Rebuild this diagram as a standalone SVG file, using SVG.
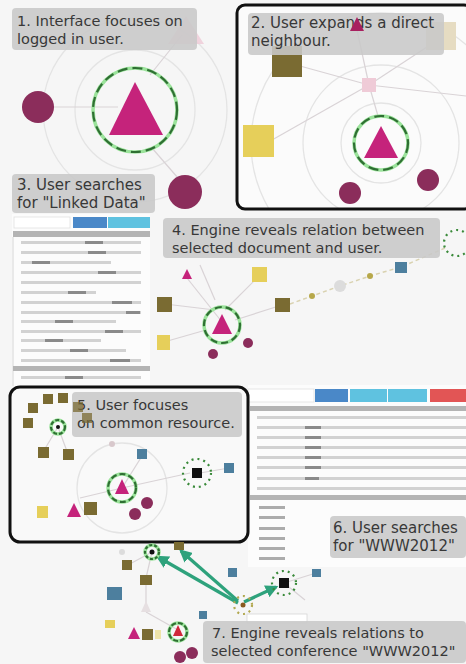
<svg xmlns="http://www.w3.org/2000/svg" width="466" height="664" viewBox="0 0 466 664">
<style>
.lbl{fill:#c8c8c8;fill-opacity:0.88}
.t{font-family:"DejaVu Sans",sans-serif;fill:#383838}
.f13{font-size:14.5px}
.f14{font-size:15px}
.ring{fill:none;stroke:#9be39b;stroke-width:3.5}
.dash{fill:none;stroke:#2f6f33;stroke-width:2.2;stroke-dasharray:10 5}
.dot{fill:none;stroke:#3a8a3a;stroke-width:2.2;stroke-dasharray:2 4}
.tri{fill:#c5237b}
.pur{fill:#8b2d5b}
.olv{fill:#7a6b32}
.yel{fill:#e6cf5a}
.blu{fill:#4d7f9e}
.pale{fill:#efcbd7}
.edge{stroke:#d9d3d6;stroke-width:1.2;fill:none}
.orb{fill:none;stroke:#e4e4e4;stroke-width:1.3}
.panel{fill:none;stroke:#111;stroke-width:3}
.row{fill:#d2d2d2}
.bold{fill:#8a8a8a}
.hdr{fill:#b4b4b4}
.arr{stroke:#2ea27c;stroke-width:3.2;fill:none}
</style>
<defs>
<marker id="ah" viewBox="0 0 10 10" refX="8" refY="5" markerWidth="4" markerHeight="4" orient="auto">
<path d="M0,0 L10,5 L0,10 z" fill="#2ea27c"/>
</marker>
<clipPath id="c2"><rect x="237" y="5" width="229" height="204" rx="8"/></clipPath>
<clipPath id="c5"><rect x="10" y="387" width="238" height="155" rx="10"/></clipPath>
</defs>
<rect width="466" height="664" fill="#f6f6f6"/>

<!-- Panel 1 -->
<g id="panel1">
<circle class="orb" cx="135" cy="110" r="92"/>
<circle class="orb" cx="135" cy="110" r="60"/>
</g>

<g id="connectors">
<line class="edge" x1="54" y1="107" x2="118" y2="107"/>
<line class="edge" x1="150" y1="75" x2="182" y2="35"/>
<line class="edge" x1="152" y1="148" x2="178" y2="178"/>
<g>
<line class="edge" x1="187" y1="278" x2="222" y2="322"/>
<line class="edge" x1="165" y1="304" x2="215" y2="310"/>
<line class="edge" x1="260" y1="275" x2="225" y2="310"/>
<line class="edge" x1="282" y1="305" x2="235" y2="320"/>
<line class="edge" x1="164" y1="342" x2="206" y2="330"/>
<line class="edge" x1="200" y1="265" x2="215" y2="300"/>
<polyline points="290,304 312,296 340,286 370,276 401,267 445,248" stroke="#d9d2b0" stroke-width="1.5" fill="none" stroke-dasharray="4 3"/>
</g>
<g>
<line class="edge" x1="284" y1="583" x2="316" y2="573"/>
<line class="edge" x1="284" y1="583" x2="305" y2="600"/>
<line class="edge" x1="152" y1="552" x2="128" y2="565"/>
<line class="edge" x1="152" y1="552" x2="146" y2="578"/>
<line class="edge" x1="146" y1="580" x2="146" y2="605"/>
<line class="edge" x1="146" y1="612" x2="178" y2="630"/>
<line class="arr" x1="238" y1="603" x2="158" y2="557" marker-end="url(#ah)"/>
<line class="arr" x1="238" y1="601" x2="181" y2="551" marker-end="url(#ah)"/>
<line class="arr" x1="244" y1="602" x2="276" y2="587" marker-end="url(#ah)"/>
</g>
</g>

<g id="p1-nodes">
<path class="pale" d="M186,16 L204,44 L168,44 z" opacity="0.8"/>
<circle class="pur" cx="38" cy="107" r="16"/>
<circle class="pur" cx="185" cy="192" r="17"/>
<circle class="ring" cx="135" cy="110" r="42"/>
<circle class="dash" cx="135" cy="110" r="42"/>
<path class="tri" d="M135,82 L163,135 L109,135 z"/>
</g>
<g id="label1">
<rect class="lbl" x="12" y="8" width="185" height="42" rx="4"/>
<text class="t f13" x="17" y="26">1. Interface focuses on</text>
<text class="t f13" x="17" y="43.5">logged in user.</text>
</g>

<!-- Panel 2 -->
<g id="panel2">
<rect x="237" y="5" width="229" height="204" rx="8" fill="#fbfbfb"/>
<g clip-path="url(#c2)">
<circle class="orb" cx="381" cy="143" r="40"/>
<circle class="orb" cx="381" cy="143" r="78"/>
<circle class="orb" cx="381" cy="143" r="130"/>
<line class="edge" x1="369" y1="85" x2="300" y2="66"/>
<line class="edge" x1="369" y1="85" x2="272" y2="140"/>
<line class="edge" x1="369" y1="85" x2="378" y2="116"/>
<line class="edge" x1="369" y1="85" x2="357" y2="30"/>
<line class="edge" x1="369" y1="85" x2="466" y2="96"/>
<line class="edge" x1="369" y1="85" x2="430" y2="45"/>
<rect class="olv" x="272" y="46" width="30" height="31"/>
<rect x="426" y="22" width="30" height="28" fill="#e6dcc2"/>
<rect class="yel" x="243" y="125" width="31" height="32"/>
<rect class="pale" x="362" y="78" width="14" height="14"/>
<circle class="ring" cx="381" cy="143" r="27"/>
<circle class="dash" cx="381" cy="143" r="27"/>
<path class="tri" d="M381,126 L398,158 L364,158 z"/>
<circle class="pur" cx="428" cy="180" r="11"/>
<circle class="pur" cx="350" cy="193" r="11"/>
</g>
<rect class="panel" x="237" y="5" width="235" height="204" rx="8"/>
</g>
<g id="label2">
<rect class="lbl" x="248" y="13" width="196" height="42" rx="4"/>
<text class="t f14" x="251" y="28">2. User expands a direct</text>
<text class="t f14" x="251" y="46">neighbour.</text>
<path d="M357,17 L364,31 L350,31 z" fill="#a8205f"/>
</g>

<!-- Panel 3 list -->
<g id="list3">
<rect x="12" y="214" width="138" height="172" fill="#fcfcfc"/>
<rect x="14" y="217" width="56" height="11" fill="#fff" stroke="#e0e0e0" stroke-width="0.8"/>
<rect x="73" y="217" width="34" height="11" fill="#4a88c8"/>
<rect x="108" y="217" width="42" height="11" fill="#5fc2e0"/>
<rect class="hdr" x="13" y="231" width="137" height="6"/>
<line x1="13" y1="237" x2="13" y2="386" stroke="#d6d6d6"/>
<rect class="row" x="21" y="241" width="120" height="3"/><rect class="bold" x="85" y="241" width="18" height="3"/>
<rect class="row" x="21" y="251" width="120" height="3"/><rect class="bold" x="88" y="251" width="18" height="3"/>
<rect class="row" x="21" y="261" width="90" height="3"/><rect class="bold" x="32" y="261" width="18" height="3"/>
<rect class="row" x="21" y="271" width="120" height="3"/><rect class="bold" x="98" y="271" width="18" height="3"/>
<rect class="row" x="21" y="281" width="120" height="3"/>
<rect class="row" x="21" y="291" width="75" height="3"/><rect class="bold" x="68" y="291" width="18" height="3"/>
<rect class="row" x="21" y="301" width="120" height="3"/><rect class="bold" x="112" y="301" width="20" height="3"/>
<rect class="row" x="21" y="311" width="120" height="3"/><rect class="bold" x="126" y="311" width="14" height="3"/>
<rect class="row" x="21" y="320" width="95" height="3"/><rect class="bold" x="55" y="320" width="18" height="3"/>
<rect class="row" x="21" y="330" width="120" height="3"/><rect class="bold" x="105" y="330" width="18" height="3"/>
<rect class="row" x="21" y="339" width="80" height="3"/><rect class="bold" x="45" y="339" width="18" height="3"/>
<rect class="row" x="21" y="349" width="105" height="3"/><rect class="bold" x="70" y="349" width="18" height="3"/>
<rect class="row" x="21" y="359" width="120" height="3"/><rect class="bold" x="110" y="359" width="20" height="3"/>
<rect class="hdr" x="13" y="366" width="137" height="5"/>
<rect class="row" x="21" y="376" width="120" height="3"/><rect class="bold" x="65" y="376" width="18" height="3"/>
</g>
<g id="label3">
<rect class="lbl" x="12" y="174" width="143" height="39" rx="4"/>
<text class="t f14" x="17" y="190">3. User searches</text>
<text class="t f14" x="17" y="208">for "Linked Data"</text>
</g>

<!-- Panel 4 graph -->
<g id="p4-nodes">
<path class="tri" d="M187,269 L192,279 L182,279 z"/>
<rect class="yel" x="252" y="267" width="15" height="15"/>
<rect class="olv" x="157" y="297" width="15" height="15"/>
<rect class="olv" x="275" y="298" width="15" height="14"/>
<rect class="yel" x="157" y="335" width="13" height="15"/>
<rect class="blu" x="395" y="262" width="12" height="11"/>
<circle cx="312" cy="296" r="3" fill="#b7a84a"/>
<circle cx="370" cy="276" r="3" fill="#b7a84a"/>
<circle cx="340" cy="286" r="6" fill="#dcdcdc"/>
<circle class="ring" cx="222" cy="325" r="18"/>
<circle class="dash" cx="222" cy="325" r="18" style="stroke-dasharray:7 4"/>
<path class="tri" d="M222,314 L232,334 L212,334 z"/>
<circle class="pur" cx="248" cy="343" r="5"/>
<circle class="pur" cx="213" cy="354" r="5"/>
<circle class="dot" cx="457" cy="243" r="13"/>
</g>
<g id="label4">
<rect class="lbl" x="163" y="218" width="277" height="40" rx="4"/>
<text class="t f13" x="172" y="235">4. Engine reveals relation between</text>
<text class="t f13" x="172" y="252.5">selected document and user.</text>
</g>

<!-- Panel 6 list -->
<g id="list6">
<rect x="248" y="385" width="218" height="182" fill="#fcfcfc"/>
<rect x="248" y="389" width="66" height="13" fill="#fff" stroke="#e0e0e0" stroke-width="0.8"/>
<rect x="315" y="389" width="33" height="13" fill="#4a88c8"/>
<rect x="350" y="389" width="37" height="13" fill="#5fc2e0"/>
<rect x="388" y="389" width="39" height="13" fill="#5fc2e0"/>
<rect x="430" y="389" width="36" height="13" fill="#e25555"/>
<rect class="hdr" x="250" y="406" width="216" height="5"/>
<rect class="row" x="257" y="416" width="209" height="3"/>
<rect class="row" x="257" y="426" width="209" height="3"/><rect class="bold" x="305" y="426" width="16" height="3"/>
<rect class="row" x="257" y="436" width="209" height="3"/><rect class="bold" x="305" y="436" width="16" height="3"/>
<rect class="row" x="257" y="446" width="209" height="3"/><rect class="bold" x="305" y="446" width="16" height="3"/>
<rect class="row" x="257" y="456" width="209" height="3"/><rect class="bold" x="305" y="456" width="16" height="3"/>
<rect class="row" x="257" y="466" width="209" height="3"/><rect class="bold" x="305" y="466" width="16" height="3"/>
<rect class="row" x="257" y="477" width="209" height="3"/><rect class="bold" x="305" y="477" width="14" height="3"/>
<rect class="row" x="257" y="487" width="209" height="3"/>
<rect class="hdr" x="250" y="495" width="216" height="5"/>
<rect class="bold" x="259" y="506" width="26" height="3" opacity="0.7"/>
<rect class="bold" x="259" y="516" width="26" height="3" opacity="0.7"/>
<rect class="bold" x="259" y="527" width="26" height="3" opacity="0.7"/>
<rect class="bold" x="259" y="537" width="26" height="3" opacity="0.7"/>
<rect class="bold" x="259" y="547" width="26" height="3" opacity="0.7"/>
<rect class="bold" x="259" y="557" width="26" height="3" opacity="0.7"/>
</g>
<g id="label6">
<rect class="lbl" x="330" y="516" width="136" height="42" rx="4"/>
<text class="t f14" x="333" y="533">6. User searches</text>
<text class="t f14" x="333" y="551">for "WWW2012"</text>
</g>

<!-- Panel 5 -->
<g id="panel5">
<rect x="10" y="387" width="238" height="155" rx="10" fill="#f9f9f9"/>
<g clip-path="url(#c5)">
<circle class="orb" cx="122" cy="488" r="45"/>
<line class="edge" x1="122" y1="488" x2="80" y2="498"/>
<line class="edge" x1="122" y1="488" x2="142" y2="456"/>
<line class="edge" x1="122" y1="488" x2="190" y2="473"/>
<line class="edge" x1="58" y1="427" x2="43" y2="452"/>
<line class="edge" x1="58" y1="427" x2="68" y2="454"/>
<line class="edge" x1="200" y1="473" x2="229" y2="468"/>
<rect class="olv" x="43" y="394" width="10" height="10"/>
<rect class="olv" x="58" y="393" width="10" height="10"/>
<rect class="olv" x="28" y="403" width="10" height="10"/>
<rect class="olv" x="73" y="402" width="10" height="10"/>
<rect class="olv" x="23" y="418" width="10" height="10"/>
<rect class="olv" x="82" y="413" width="10" height="10"/>
<rect class="olv" x="38" y="447" width="11" height="11"/>
<rect class="olv" x="63" y="449" width="11" height="11"/>
<circle class="ring" cx="58" cy="427" r="7"/>
<circle class="dash" cx="58" cy="427" r="7" style="stroke-dasharray:4 2"/>
<circle cx="58" cy="427" r="2" fill="#111"/>
<circle cx="112" cy="444" r="3" fill="#d8c8cc"/>
<rect class="blu" x="137" y="449" width="10" height="10"/>
<circle class="dot" cx="197" cy="473" r="14"/>
<rect x="192" y="468" width="10" height="10" fill="#111"/>
<rect class="blu" x="224" y="463" width="10" height="10"/>
<circle class="ring" cx="122" cy="488" r="14"/>
<circle class="dash" cx="122" cy="488" r="14" style="stroke-dasharray:6 3"/>
<path class="tri" d="M122,479 L129,494 L115,494 z"/>
<circle class="pur" cx="147" cy="503" r="6"/>
<circle class="pur" cx="135" cy="514" r="6"/>
<path class="tri" d="M74,503 L81,517 L67,517 z"/>
<rect class="olv" x="84" y="502" width="13" height="13"/>
<rect class="yel" x="37" y="506" width="11" height="12"/>
</g>
<rect class="panel" x="10" y="387" width="238" height="155" rx="10"/>
</g>
<g id="label5">
<rect class="lbl" x="72" y="392" width="170" height="45" rx="4"/>
<text class="t f13" x="77" y="410">5. User focuses</text>
<text class="t f13" x="77" y="428">on common resource.</text>
<rect class="olv" x="73" y="402" width="10" height="10" opacity="0.7"/>
<rect class="olv" x="82" y="413" width="10" height="10" opacity="0.7"/>
</g>

<!-- Panel 7 nodes -->
<g id="p7-nodes">
<circle cx="122" cy="552" r="3" fill="#dcdcdc"/>
<circle class="ring" cx="152" cy="552" r="7"/>
<circle class="dash" cx="152" cy="552" r="7" style="stroke-dasharray:3 2"/>
<circle cx="152" cy="552" r="2.5" fill="#111"/>
<rect class="olv" x="174" y="542" width="10" height="8"/>
<rect class="olv" x="122" y="560" width="10" height="10"/>
<rect class="olv" x="140" y="575" width="12" height="10"/>
<rect class="blu" x="107" y="587" width="15" height="13"/>
<path d="M146,601 L151,612 L141,612 z" fill="#e6dfe1"/>
<rect class="yel" x="105" y="620" width="10" height="8"/>
<path class="tri" d="M134,627 L140,639 L128,639 z"/>
<rect class="olv" x="142" y="629" width="11" height="11"/>
<rect x="155" y="630" width="6" height="9" fill="#efe4a8"/>
<circle class="ring" cx="178" cy="632" r="9"/>
<circle class="dash" cx="178" cy="632" r="9" style="stroke-dasharray:5 2"/>
<path class="tri" d="M178,625 L183,636 L173,636 z" style="fill:#d0283a"/>
<circle class="pur" cx="180" cy="657" r="6"/>
<circle class="pur" cx="192" cy="653" r="6"/>
<rect class="blu" x="228" y="568" width="9" height="9"/>
<rect class="blu" x="312" y="569" width="9" height="8"/>
<rect class="blu" x="199" y="611" width="8" height="8"/>
<circle class="dot" cx="284" cy="583" r="12"/>
<rect x="279" y="578" width="10" height="10" fill="#111"/>
<circle class="dot" cx="243" cy="605" r="9" style="stroke:#b2a850"/>
<circle cx="243" cy="605" r="2.5" fill="#8a5a20"/>
<rect x="247" y="614" width="60" height="9" fill="#fff" stroke="#d6d6d6" stroke-width="0.8"/>
</g>
<g id="label7">
<rect class="lbl" x="203" y="621" width="263" height="42" rx="4"/>
<text class="t f13" x="212" y="638">7. Engine reveals relations to</text>
<text class="t f13" x="211" y="656">selected conference "WWW2012"</text>
</g>
</svg>
